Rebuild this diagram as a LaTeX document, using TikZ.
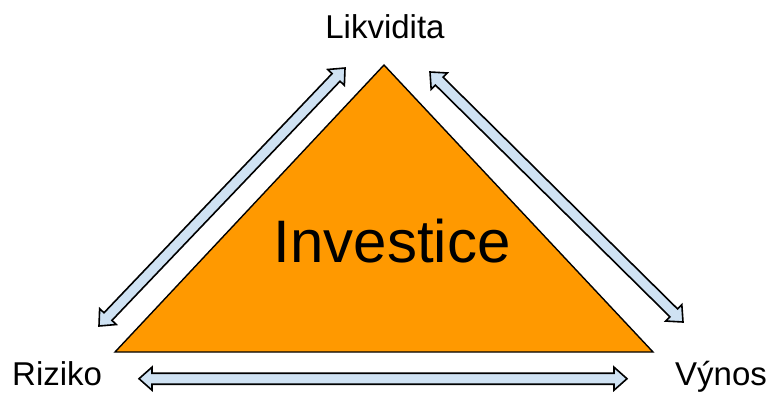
\documentclass[tikz,border=0pt]{standalone}
\usepackage{fontspec}
\setmainfont{Liberation Sans}
\definecolor{tri}{HTML}{FF9900}
\definecolor{arrfill}{HTML}{CFE2F3}
\tikzset{
  tribox/.style={draw=black, line width=1.4pt, fill=tri, line join=miter},
  dblarr/.style={draw=black, line width=1.6pt, fill=arrfill, line join=miter},
  lbl/.style={inner sep=0pt, font=\fontsize{33}{38}\selectfont},
}
% double arrow of length #1 in local coords
\newcommand{\dblarrowshape}[1]{%
  \draw[dblarr] (0,0) -- (13,11.5) -- (13,5.5) -- (#1-13,5.5) -- (#1-13,11.5) -- (#1,0)
    -- (#1-13,-11.5) -- (#1-13,-5.5) -- (13,-5.5) -- (13,-11.5) -- cycle;}
\begin{document}
\begin{tikzpicture}[x=1pt,y=1pt]
\useasboundingbox (0,0) rectangle (781,392);
\coordinate (apex) at (384,327);
\coordinate (bl) at (115,40);
\coordinate (br) at (653,40);
\draw[tribox] (bl) -- (apex) -- (br) -- cycle;
\node[inner sep=0pt, anchor=base, font=\fontsize{60}{70}\selectfont] (inv) at (392,130) {Investice};
\node[lbl, anchor=base] (lik) at (385,353) {Likvidita};
\node[lbl, anchor=base west] (riz) at (12,7) {Riziko};
\node[lbl, anchor=base west] (vyn) at (675,7) {Výnos};
% arrows
\begin{scope}[shift={(99,66)}, rotate=46.36]
  \dblarrowshape{356.5}
\end{scope}
\begin{scope}[shift={(430,320)}, rotate=-44.66]
  \dblarrowshape{355.7}
\end{scope}
\begin{scope}[shift={(139,13.3)}]
  \dblarrowshape{488}
\end{scope}
\end{tikzpicture}
\end{document}
